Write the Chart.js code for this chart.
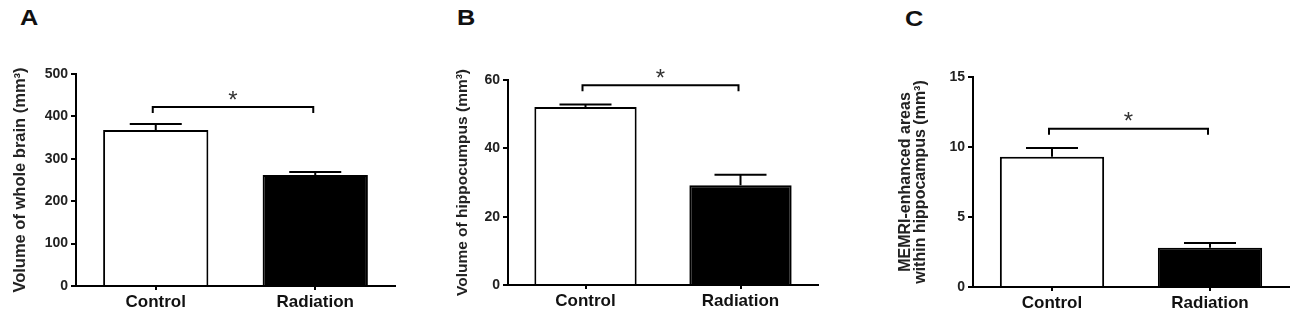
<!DOCTYPE html>
<html>
<head>
<meta charset="utf-8">
<script src="https://cdn.jsdelivr.net/npm/chart.js@4"></script>
<style>
  body { margin: 0; background: #fff; width: 1300px; height: 324px; overflow: hidden; position: relative; font-family: "Liberation Sans", Arial, sans-serif; }
  .panel { position: absolute; top: 0; }
  .letter { position: absolute; font-weight: bold; font-size: 22px; color: #111; transform: scaleX(1.15); transform-origin: left top; }
</style>
</head>
<body>
<div class="letter" style="left:20px; top:5px;">A</div>
<div class="letter" style="left:457px; top:5px;">B</div>
<div class="letter" style="left:905px; top:6px;">C</div>
<canvas id="chartA" class="panel" style="left:0px" width="440" height="324"></canvas>
<canvas id="chartB" class="panel" style="left:440px" width="440" height="324"></canvas>
<canvas id="chartC" class="panel" style="left:880px" width="420" height="324"></canvas>
<script>
// Données
const categories = ['Control', 'Radiation'];

const brainMeans = [368, 262];
const brainSem = [14, 7];
const brainTicks = [0, 500, 100];     // min, max, pas
const brainBracket = 422;

const hippoMeans = [52.1, 29.2];
const hippoSem = [0.7, 3.1];
const hippoTicks = [0, 60, 20];
const hippoBracket = 58.5;

const memriMeans = [9.3, 2.8];
const memriSem = [0.62, 0.35];
const memriTicks = [0, 15, 5];
const memriBracket = 11.3;

const FONT = '"Liberation Sans", Arial, sans-serif';

// Barres d'erreur + crochet de significativité
const sigPlugin = {
    id: 'sigBars',
    afterDatasetsDraw(chart, args, opts) {
        const ctx = chart.ctx;
        const x = chart.scales.x;
        const y = chart.scales.y;
        const meta = chart.getDatasetMeta(0);
        const ds = chart.data.datasets[0];
        ctx.save();
        ctx.strokeStyle = '#000';
        ctx.lineWidth = 2;
        meta.data.forEach((bar, i) => {
            const cx = bar.x;
            const yTop = y.getPixelForValue(ds.data[i]);
            const yErr = y.getPixelForValue(ds.data[i] + opts.errors[i]);
            ctx.beginPath();
            ctx.moveTo(cx, yTop);
            ctx.lineTo(cx, yErr);
            ctx.moveTo(cx - 26, yErr);
            ctx.lineTo(cx + 26, yErr);
            ctx.stroke();
        });
        // crochet
        const x1 = x.getPixelForValue(0) - 3;
        const x2 = x.getPixelForValue(1) - 2;
        const yb = y.getPixelForValue(opts.bracket);
        ctx.beginPath();
        ctx.moveTo(x1, yb + 6);
        ctx.lineTo(x1, yb);
        ctx.lineTo(x2, yb);
        ctx.lineTo(x2, yb + 6);
        ctx.stroke();
        ctx.fillStyle = '#333';
        ctx.font = '24px ' + FONT;
        ctx.textAlign = 'center';
        ctx.textBaseline = 'middle';
        ctx.fillText('*', (x1 + x2) / 2, yb - 6);
        ctx.restore();
    }
};

function makePanel(canvasId, p) {
    const ctx = document.getElementById(canvasId).getContext('2d');
    return new Chart(ctx, {
        type: 'bar',
        data: {
            labels: categories,
            datasets: [{
                data: p.means,
                backgroundColor: ['#ffffff', '#000000'],
                borderColor: '#000',
                borderWidth: 2,
                borderSkipped: 'bottom',
                barPercentage: 0.66,
                categoryPercentage: 1
            }]
        },
        options: {
            responsive: false,
            devicePixelRatio: 1,
            animation: false,
            layout: {
                padding: { top: p.top, right: p.right, left: 0, bottom: 0 }
            },
            plugins: {
                legend: { display: false },
                tooltip: { enabled: false },
                sigBars: { errors: p.errors, bracket: p.bracket }
            },
            scales: {
                x: {
                    offset: true,
                    afterFit: (s) => { s.height = p.xHeight; },
                    grid: { offset: false, drawOnChartArea: false, tickLength: 4, color: '#000', lineWidth: 2 },
                    border: { display: true, color: '#000', width: 2 },
                    ticks: { color: '#111', padding: 2, font: { family: FONT, size: 17, weight: 'bold' } }
                },
                y: {
                    min: p.ticks[0],
                    max: p.ticks[1],
                    afterFit: (s) => { s.width = p.yWidth; },
                    grid: { drawOnChartArea: false, tickLength: 5, color: '#000', lineWidth: 2 },
                    border: { display: true, color: '#000', width: 2 },
                    ticks: { stepSize: p.ticks[2], color: '#222', padding: 3, font: { family: FONT, size: 14, weight: 'bold' } },
                    title: {
                        display: true,
                        text: p.title,
                        color: '#222',
                        padding: { top: p.titlePad, bottom: 0 },
                        font: { family: FONT, size: p.titleSize, weight: 'bold', lineHeight: p.titleLH }
                    }
                }
            }
        },
        plugins: [sigPlugin]
    });
}

makePanel('chartA', {
    means: brainMeans, errors: brainSem, ticks: brainTicks, bracket: brainBracket,
    title: 'Volume of whole brain (mm³)', titleSize: 16.5, titleLH: 1.2, titlePad: 11,
    top: 74, right: 45, yWidth: 76, xHeight: 38
});
makePanel('chartB', {
    means: hippoMeans, errors: hippoSem, ticks: hippoTicks, bracket: hippoBracket,
    title: 'Volume of hippocumpus (mm³)', titleSize: 15.5, titleLH: 1.2, titlePad: 13,
    top: 80, right: 62, yWidth: 68, xHeight: 39
});
makePanel('chartC', {
    means: memriMeans, errors: memriSem, ticks: memriTicks, bracket: memriBracket,
    title: ['MEMRI-enhanced areas', 'within hippocampus (mm³)'], titleSize: 16, titleLH: 0.95, titlePad: 18,
    top: 77, right: 11, yWidth: 93, xHeight: 37
});
</script>
</body>
</html>
